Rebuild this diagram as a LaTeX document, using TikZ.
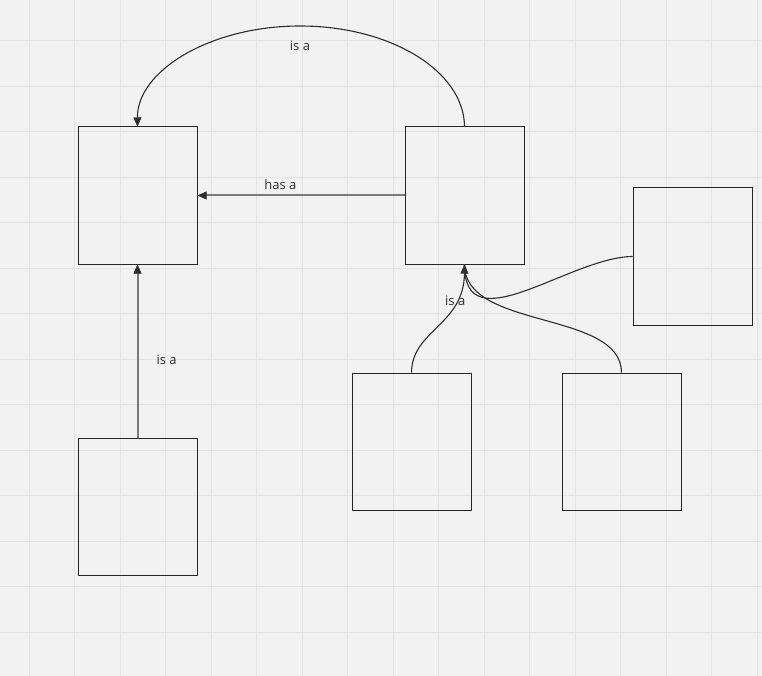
\documentclass[tikz,border=0pt]{standalone}
\usepackage{fontspec}
\setmainfont{Open Sans}
\usetikzlibrary{arrows.meta}
\definecolor{canvas}{HTML}{F2F2F2}
\definecolor{gridcol}{HTML}{E4E4E4}
\definecolor{ink}{HTML}{2E2E2E}
\definecolor{softline}{HTML}{7A7A7A}
\tikzset{
  box/.style={draw=black!85, line width=1pt, minimum width=119pt, minimum height=137pt, inner sep=0pt},
  gridline/.style={draw=gridcol, line width=1pt},
  headend/.style={-{Triangle[length=9pt,width=8pt,color=ink,line width=0.4pt]}},
  headstart/.style={{Triangle[length=9pt,width=8pt,color=ink,line width=0.4pt]}-},
  curvelink/.style={draw=ink, line width=1.1pt},
  straightlink/.style={draw=softline, line width=2pt},
  lbl/.style={font=\fontsize{13pt}{15pt}\selectfont, text=ink, inner sep=1pt}
}
\begin{document}
\begin{tikzpicture}[x=1pt,y=-1pt]
  % canvas and grid
  \fill[canvas] (0,0) rectangle (762,676);
  \useasboundingbox (0,0) rectangle (762,676);
  \foreach \k in {0,...,16} {
    \pgfmathsetmacro{\gx}{29.3+45.5*\k}
    \draw[gridline] (\gx,0) -- (\gx,676);
  }
  \foreach \k in {0,...,14} {
    \pgfmathsetmacro{\gy}{40.7+45.5*\k}
    \draw[gridline] (0,\gy) -- (762,\gy);
  }

  % boxes
  \node[box] (a) at (137.5,195.5) {};
  \node[box] (b) at (464.5,195.5) {};
  \node[box] (c) at (692.5,256.5) {};
  \node[box] (d) at (411.5,441.5) {};
  \node[box] (e) at (621.5,441.5) {};
  \node[box] (f) at (137.5,506.5) {};

  % arc over the top: b -> a
  \draw[curvelink, headstart] (a.north)
    .. controls (137,71) and (210,26) .. (300,26) node[lbl, below=13pt] {is a}
    .. controls (390.5,26) and (464,71) .. (b.north);

  % has a: b -> a
  \draw[straightlink, headend] (b.west) -- node[lbl, above=4pt, pos=0.6] {has a} (a.east);

  % is a: f -> a
  \draw[straightlink, headend] (f.north) -- node[lbl, right=17pt, pos=0.45] {is a} (a.south);

  % branches into b from below
  \draw[curvelink] (e.north) .. controls (621,310) and (464,330) .. (b.south);
  \draw[curvelink] (c.west) .. controls (570,257) and (464,345) .. (b.south);
  \draw[curvelink, headend] (d.north) .. controls (412,330) and (464,325) .. node[lbl, pos=0.72, xshift=1pt, yshift=4pt] {is a} (b.south);
\end{tikzpicture}
\end{document}
